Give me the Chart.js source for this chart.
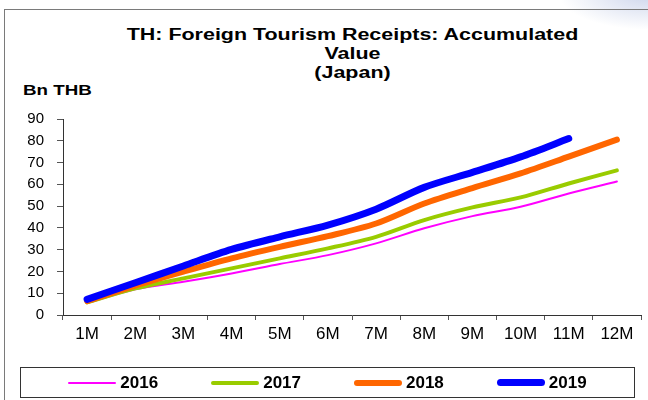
<!DOCTYPE html>
<html>
<head>
<meta charset="utf-8">
<title>TH: Foreign Tourism Receipts: Accumulated Value (Japan)</title>
<script src="https://cdn.jsdelivr.net/npm/chart.js@4/dist/chart.umd.min.js"></script>
<style>
  html, body { margin: 0; padding: 0; background: #fff; }
  #wrap { position: relative; width: 648px; height: 400px; overflow: hidden; background: #fff;
          font-family: 'Liberation Sans', Arial, sans-serif; color: #000; }
  #glow { position: absolute; right: -40px; top: -30px; width: 130px; height: 60px;
          background: radial-gradient(ellipse at 70% 40%, rgba(196, 206, 232, 0.85), rgba(255, 255, 255, 0) 70%); }
  #frame { position: absolute; left: 4px; top: 9px; right: -10px; bottom: -10px;
           border-left: 1px solid #7a7a7a; border-top: 1px solid #7a7a7a; }
  #title { position: absolute; left: 0; top: 25px; width: 705px; text-align: center;
           font-weight: bold; font-size: 16px; line-height: 19.2px; white-space: nowrap;
           transform: scaleX(1.34); transform-origin: 352.5px 0; }
  #unit { position: absolute; left: 23px; top: 81px; font-weight: bold; font-size: 15px;
          line-height: 18px; transform: scaleX(1.25); transform-origin: 0 0; }
  #holder { position: absolute; left: 0; top: 0; width: 648px; height: 400px; }
  #legend { position: absolute; left: 20px; top: 367px; width: 615px; height: 31px; box-sizing: border-box;
            border: 1px solid #333; display: flex; justify-content: center; align-items: center; gap: 53px; }
  .item { display: flex; align-items: center; gap: 4px; }
  .swatch { width: 48px; }
  .txt { font-weight: bold; font-size: 17px; line-height: 18px; }
</style>
</head>
<body>
<div id="wrap">
  <div id="glow"></div>
  <div id="frame"></div>
  <div id="title">TH: Foreign Tourism Receipts: Accumulated<br>Value<br>(Japan)</div>
  <div id="unit">Bn THB</div>
  <div id="holder"><canvas id="chart"></canvas></div>
  <div id="legend"></div>
</div>
<script>
// months of the year, accumulated value in Bn THB
const months = ['1M', '2M', '3M', '4M', '5M', '6M', '7M', '8M', '9M', '10M', '11M', '12M'];
const years = ['2016', '2017', '2018', '2019'];

const y2016 = [5.5, 11.8, 15.3, 19.1, 23.4, 27.5, 32.9, 39.8, 45.4, 49.7, 55.8, 61.3];
const y2017 = [5.8, 12.2, 16.8, 21.4, 26.0, 30.6, 35.9, 43.6, 49.4, 54.0, 60.4, 66.4];
const y2018 = [6.4, 13.5, 19.9, 26.0, 31.3, 36.2, 42.0, 51.2, 58.3, 65.0, 72.7, 80.5];
const y2019 = [7.2, 14.8, 22.5, 30.1, 35.9, 41.3, 48.6, 58.6, 65.5, 72.6, 81.0, null];

const yMin = 0, yMax = 90, yStep = 10;

const colors = ['#ff00ff', '#99cc00', '#ff6600', '#0000ff'];
const widths = [2, 4, 6, 7];
const values = [y2016, y2017, y2018, y2019];

const fontFamily = "'Liberation Sans', Arial, sans-serif";

const datasets = years.map((yr, i) => ({
  label: yr,
  data: values[i],
  borderColor: colors[i],
  backgroundColor: colors[i],
  borderWidth: widths[i],
  borderCapStyle: 'round',
  borderJoinStyle: 'round',
  pointRadius: 0,
  pointHoverRadius: 0,
  tension: 0.3,
  fill: false,
  order: years.length - i, // later years on top
}));

const chart = new Chart(document.getElementById('chart'), {
  type: 'line',
  data: { labels: months, datasets: datasets },
  options: {
    responsive: true,
    maintainAspectRatio: false,
    animation: false,
    layout: { padding: { left: 0, right: 7, top: 119, bottom: 55 } },
    scales: {
      x: {
        offset: true,
        grid: { offset: true, drawOnChartArea: false, drawTicks: true, tickLength: 5, color: '#555' },
        border: { display: true, color: '#333', width: 1 },
        ticks: { color: '#000', padding: 4, font: { family: fontFamily, size: 17 }, maxRotation: 0, autoSkip: false },
        afterFit: scale => { scale.height = 30; },
      },
      y: {
        min: yMin,
        max: yMax,
        grid: { drawOnChartArea: false, drawTicks: true, tickLength: 6, color: '#555' },
        border: { display: true, color: '#333', width: 1 },
        ticks: { stepSize: yStep, color: '#000', padding: 13, font: { family: fontFamily, size: 15 } },
        afterFit: scale => { scale.width = 63; },
      },
    },
    plugins: {
      legend: { display: false },
      title: { display: false },
      tooltip: { enabled: false },
    },
  },
});

// legend drawn as html, items taken from the chart datasets
function buildLegend(chart) {
  const box = document.getElementById('legend');
  box.innerHTML = '';
  const items = Chart.defaults.plugins.legend.labels.generateLabels(chart)
    .sort((a, b) => a.datasetIndex - b.datasetIndex);
  items.forEach(it => {
    const el = document.createElement('div');
    el.className = 'item';
    const sw = document.createElement('div');
    sw.className = 'swatch';
    sw.style.height = it.lineWidth + 'px';
    sw.style.borderRadius = (it.lineWidth / 2) + 'px';
    sw.style.background = it.strokeStyle;
    const tx = document.createElement('span');
    tx.className = 'txt';
    tx.textContent = it.text;
    el.appendChild(sw);
    el.appendChild(tx);
    box.appendChild(el);
  });
}
buildLegend(chart);
</script>
</body>
</html>
